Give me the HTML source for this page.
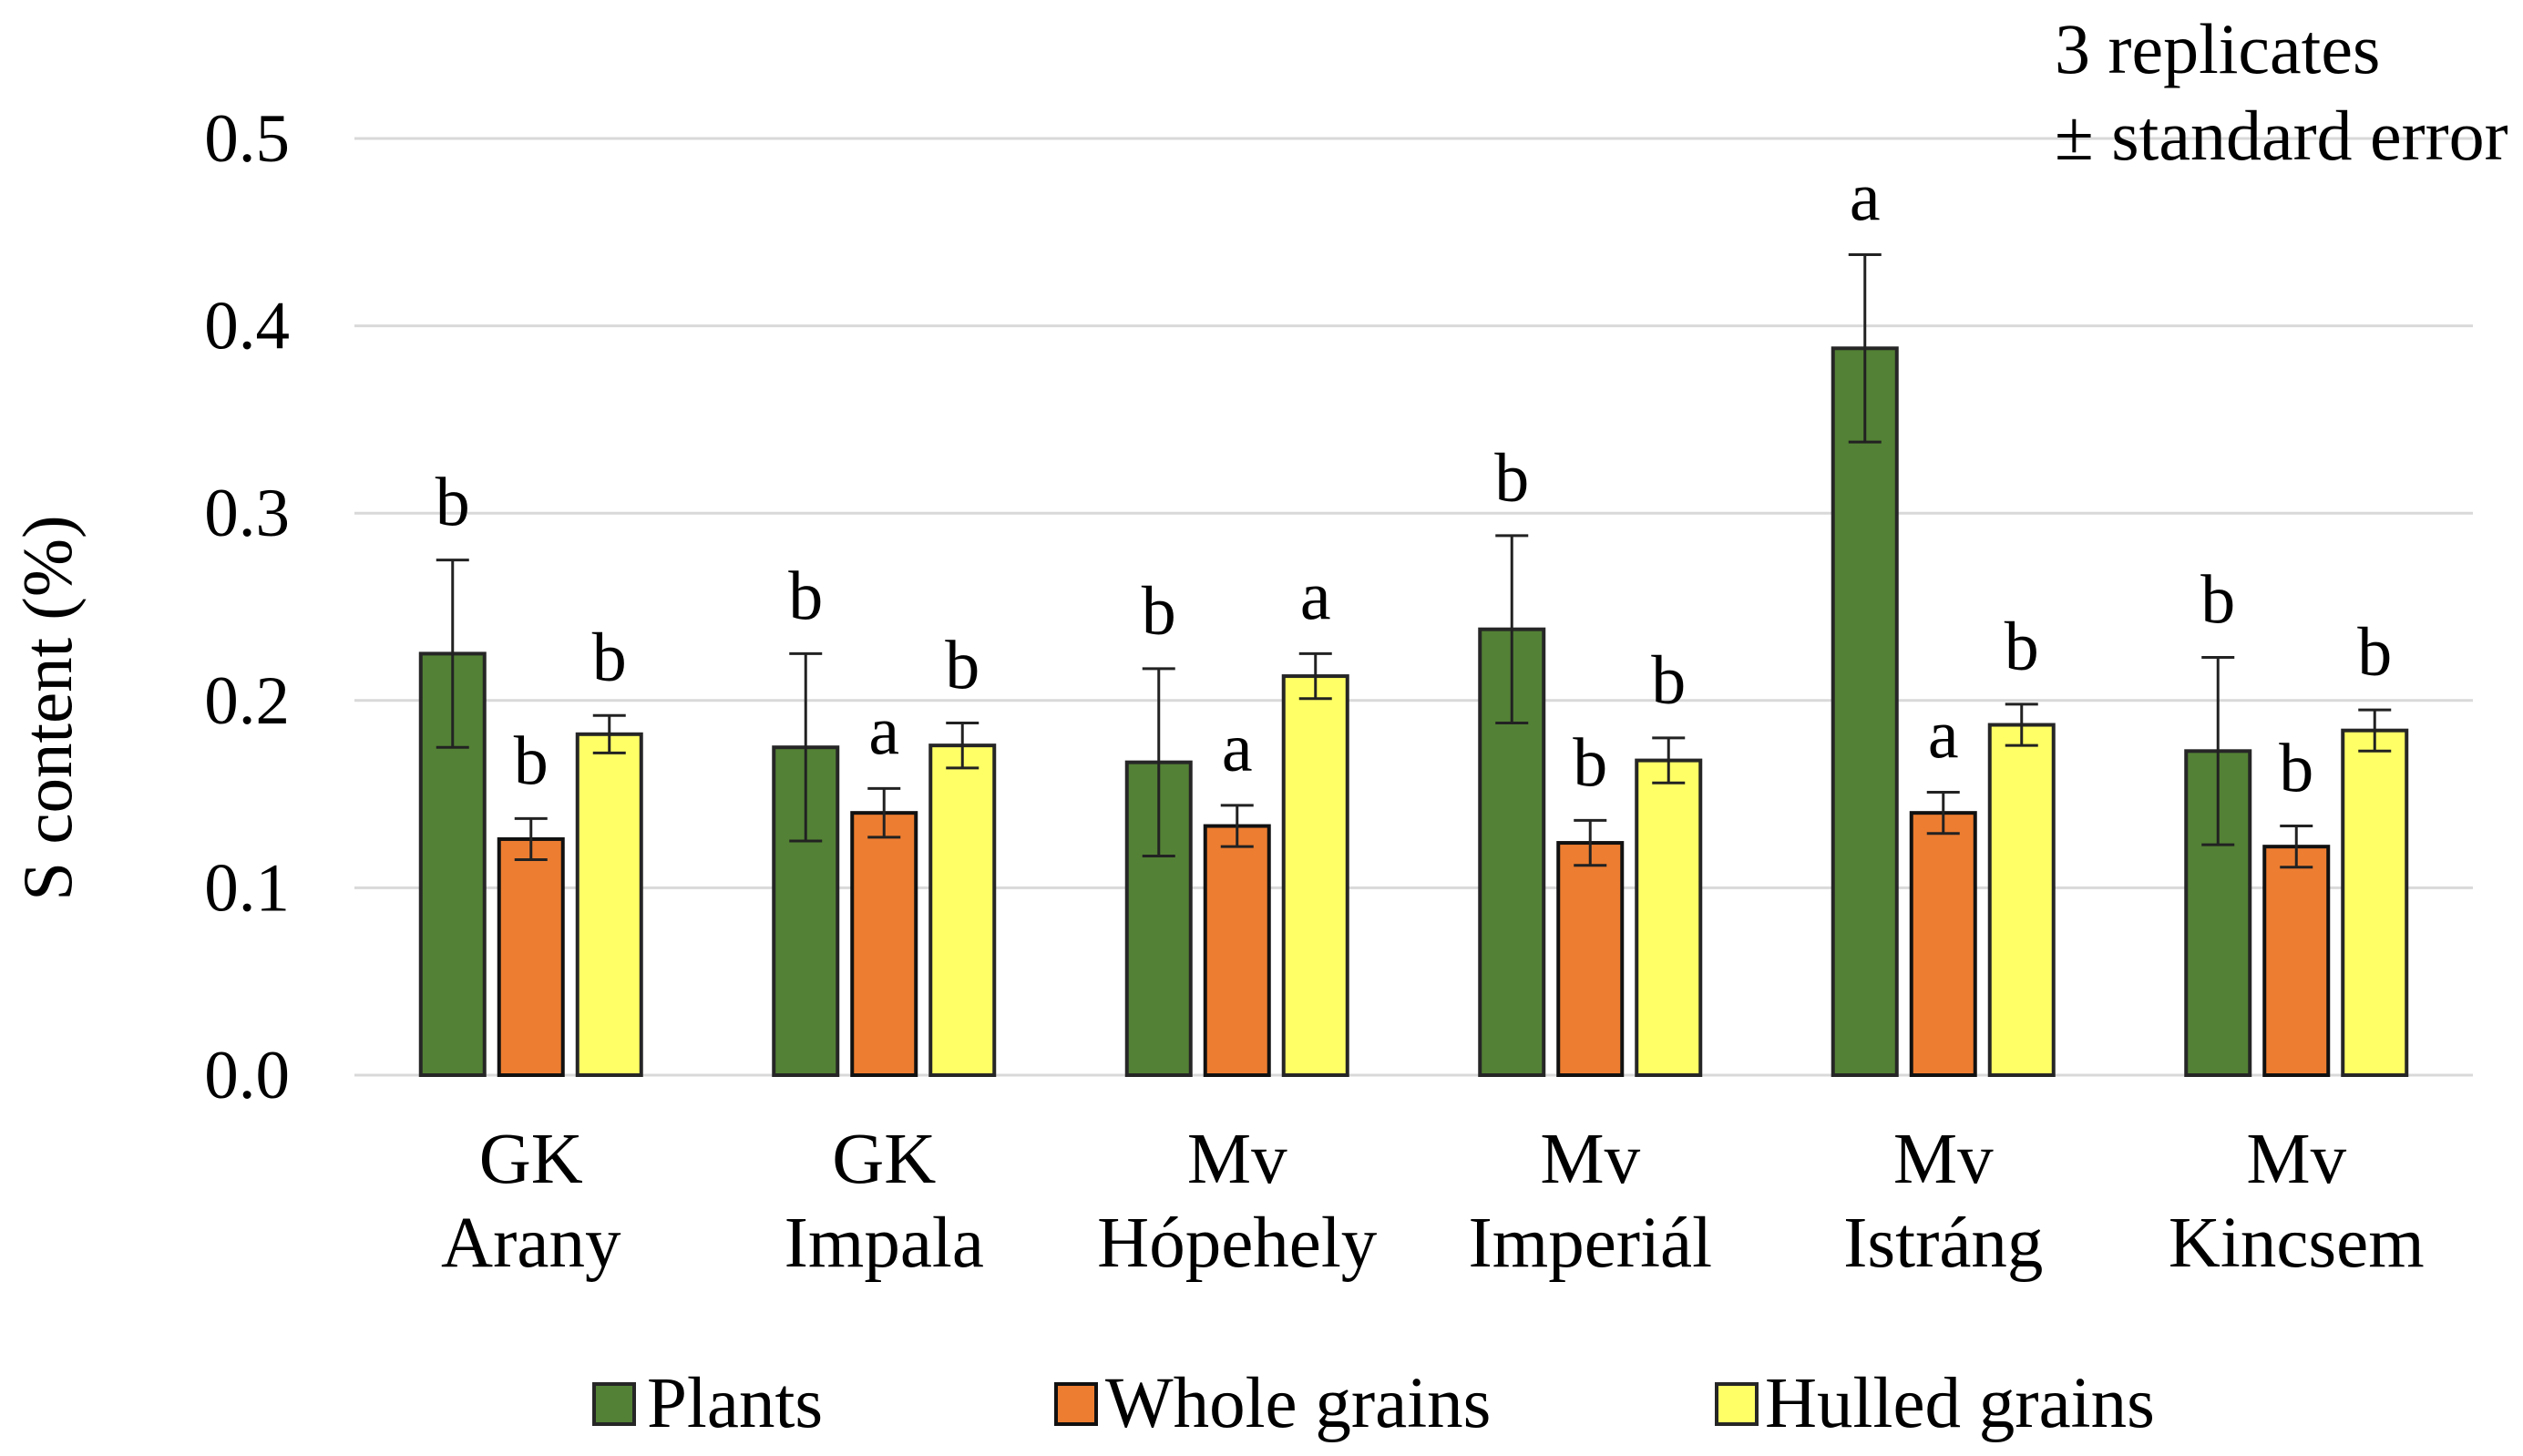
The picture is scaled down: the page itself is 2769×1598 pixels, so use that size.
<!DOCTYPE html>
<html><head><meta charset="utf-8"><style>
html,body{margin:0;padding:0;background:#fff}
svg text{font-family:"Liberation Serif",serif;fill:#000}
</style></head><body>
<svg width="2769" height="1593" viewBox="0 0 2769 1593" xmlns="http://www.w3.org/2000/svg">
<g id="grid"></g>
<g id="yticks"></g>
<g id="bars"></g>
<g id="xlabels"></g>
<text transform="translate(78,777) rotate(-90)" text-anchor="middle" font-size="77">S content (%)</text>
<text x="2255" y="80" font-size="78">3 replicates</text>
<text x="2255" y="175" font-size="78">± standard error</text>
<g>
 <rect x="652" y="1519" width="44" height="44" fill="#538135" stroke="#262626" stroke-width="4"/>
 <text x="710" y="1566" font-size="79">Plants</text>
 <rect x="1159" y="1519" width="44" height="44" fill="#ED7D31" stroke="#111" stroke-width="4"/>
 <text x="1213" y="1566" font-size="79">Whole grains</text>
 <rect x="1884" y="1519" width="44" height="44" fill="#FFFF66" stroke="#262626" stroke-width="4"/>
 <text x="1937" y="1566" font-size="79">Hulled grains</text>
</g>
</svg>
<script>
const categories1 = ["GK","GK","Mv","Mv","Mv","Mv"];
const categories2 = ["Arany","Impala","Hópehely","Imperiál","Istráng","Kincsem"];
const plants = [0.225,0.175,0.167,0.238,0.388,0.173];
const plantsErr = [0.050,0.050,0.050,0.050,0.050,0.050];
const whole = [0.126,0.140,0.133,0.124,0.140,0.122];
const wholeErr = [0.011,0.013,0.011,0.012,0.011,0.011];
const hulled = [0.182,0.176,0.213,0.168,0.187,0.184];
const hulledErr = [0.010,0.012,0.012,0.012,0.011,0.011];
const plantsLetters = ["b","b","b","b","a","b"];
const wholeLetters = ["b","a","a","b","a","b"];
const hulledLetters = ["b","b","a","b","b","b"];
const yTicks = [0,0.1,0.2,0.3,0.4,0.5];
const yTickLabels = ["0.0","0.1","0.2","0.3","0.4","0.5"];

const NS="http://www.w3.org/2000/svg";
const L=389,R=2714,Y0=1180,Y5=152;
const y=v=>Y0-(v/0.5)*(Y0-Y5);
const gw=(R-L)/categories2.length;
const xc=i=>L+gw*(i+0.5);
function mk(tag,attrs,parent){const e=document.createElementNS(NS,tag);for(const k in attrs)e.setAttribute(k,attrs[k]);parent.appendChild(e);return e;}
const grid=document.getElementById('grid'),yt=document.getElementById('yticks'),bars=document.getElementById('bars'),xl=document.getElementById('xlabels');
yTicks.forEach((t,i)=>{
  const ln=mk('line',{x1:L,x2:R,y1:y(t),y2:y(t),stroke:'#d9d9d9','stroke-width':3},grid);
  
  
  const tx=mk('text',{x:318,y:y(t)+25,'text-anchor':'end','font-size':75},yt);
  tx.textContent=yTickLabels[i];
  
  
});
const series=[
 {v:plants,e:plantsErr,l:plantsLetters,c:'#538135',s:'#262626',n:'plants'},
 {v:whole,e:wholeErr,l:wholeLetters,c:'#ED7D31',s:'#111',n:'whole-grains'},
 {v:hulled,e:hulledErr,l:hulledLetters,c:'#FFFF66',s:'#262626',n:'hulled-grains'}];
const bw=70,gap=16;
categories2.forEach((c,i)=>{
  series.forEach((s,k)=>{
    const cx=xc(i)+(k-1)*(bw+gap);
    const top=y(s.v[i]);
    const r=mk('rect',{x:cx-bw/2,y:top,width:bw,height:Y0-top,fill:s.c,stroke:s.s,'stroke-width':4},bars);
    
    
    const hi=y(s.v[i]+s.e[i]),lo=y(s.v[i]-s.e[i]);
    const g=mk('g',{stroke:'#222','stroke-width':3},bars);
    
    
    mk('line',{x1:cx,x2:cx,y1:hi,y2:lo},g);
    mk('line',{x1:cx-18,x2:cx+18,y1:hi,y2:hi},g);
    mk('line',{x1:cx-18,x2:cx+18,y1:lo,y2:lo},g);
    const t=mk('text',{x:cx,y:hi-38,'text-anchor':'middle','font-size':76},bars);
    t.textContent=s.l[i];
    
    
  });
  const a=mk('text',{x:xc(i),y:1298,'text-anchor':'middle','font-size':79},xl);
  a.textContent=categories1[i];
  
  
  const b=mk('text',{x:xc(i),y:1390,'text-anchor':'middle','font-size':79},xl);
  b.textContent=c;
  
  
});
</script>
</body></html>
